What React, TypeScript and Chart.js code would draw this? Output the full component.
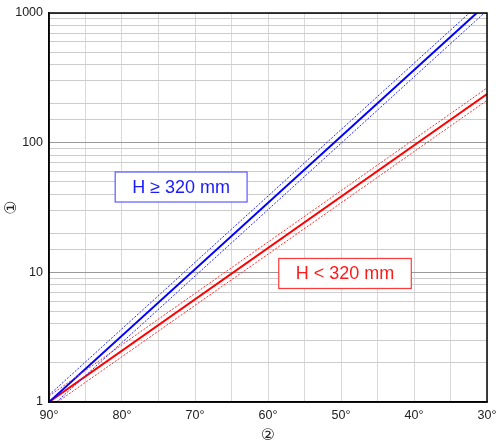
import React, { useEffect, useRef } from 'react';
import { Chart, registerables } from 'chart.js';

Chart.register(...registerables);

// Data (angle in degrees on x, value on log y)
const angles = [90, 30];
const blueMain = [1, 1180];
const blueUpper = [1.13, 1330];
const blueLower = [0.885, 1045];
const redMain = [1, 237];
const redUpper = [1.11, 264];
const redLower = [0.9, 212];

const yTickLabels = [1, 10, 100, 1000];
const xTickLabels = [90, 80, 70, 60, 50, 40, 30];

const labelTexts = ['H ≥ 320 mm', 'H < 320 mm'];
const labelAngles = [71.9, 49.45];
const labelValues = [45.5, 9.8];
const labelColors = ['#1a1aff', '#ff1a1a'];
const labelBorders = ['#5a5aff', '#ff3a3a'];

const FONT = '"Liberation Sans", Arial, "DejaVu Sans", sans-serif';

const toPoints = (ys: number[]) => angles.map((a, i) => ({ x: a, y: ys[i] }));

const framePlugin = {
  id: 'frameAndLabels',
  afterDatasetsDraw(chart: any) {
    const { ctx, chartArea, scales } = chart;
    ctx.save();
    ctx.font = `18px ${FONT}`;
    ctx.textAlign = 'center';
    ctx.textBaseline = 'middle';
    labelTexts.forEach((t, i) => {
      const cx = scales.x.getPixelForValue(labelAngles[i]);
      const cy = scales.y.getPixelForValue(labelValues[i]);
      const w = ctx.measureText(t).width + 34;
      const h = 30;
      ctx.fillStyle = '#ffffff';
      ctx.fillRect(cx - w / 2, cy - h / 2, w, h);
      ctx.strokeStyle = labelBorders[i];
      ctx.lineWidth = 1.2;
      ctx.strokeRect(cx - w / 2, cy - h / 2, w, h);
      ctx.fillStyle = labelColors[i];
      ctx.fillText(t, cx, cy + 1);
    });
    ctx.strokeStyle = '#000';
    ctx.lineWidth = 1.5;
    ctx.strokeRect(chartArea.left, chartArea.top, chartArea.right - chartArea.left, chartArea.bottom - chartArea.top);
    ctx.restore();
  },
};

export default function App() {
  const ref = useRef<HTMLCanvasElement | null>(null);

  useEffect(() => {
    if (!ref.current) return;
    const mk = (label: string, ys: number[], color: string, width: number, dash: number[]) => ({
      label,
      data: toPoints(ys),
      borderColor: color,
      backgroundColor: color,
      borderWidth: width,
      borderDash: dash,
      pointRadius: 0,
      fill: false,
      tension: 0,
    });
    const chart = new Chart(ref.current, {
      type: 'line',
      data: {
        datasets: [
          mk('blueUpper', blueUpper, '#2a2aff', 1, [2, 1.5]),
          mk('blueLower', blueLower, '#2a2aff', 1, [2, 1.5]),
          mk('redUpper', redUpper, '#ff3030', 1, [2, 1.5]),
          mk('redLower', redLower, '#ff3030', 1, [2, 1.5]),
          mk('blue', blueMain, '#0000ff', 2, []),
          mk('red', redMain, '#ff0000', 2, []),
        ],
      },
      options: {
        animation: false,
        responsive: false,
        events: [],
        layout: { padding: { top: 13, right: 9, left: 0, bottom: 0 } },
        plugins: { legend: { display: false }, tooltip: { enabled: false } },
        scales: {
          x: {
            type: 'linear',
            reverse: true,
            min: 30,
            max: 90,
            afterFit: (s: any) => {
              s.height = 44;
              s.paddingLeft = 0;
              s.paddingRight = 0;
            },
            grid: { color: '#d9d9d9', lineWidth: 1, drawTicks: false },
            border: { display: true, color: '#000', width: 1.5 },
            ticks: {
              stepSize: 5,
              autoSkip: false,
              maxRotation: 0,
              padding: 6,
              color: '#222',
              font: { family: FONT, size: 12.5 },
              callback: (v: any) => (xTickLabels.includes(Number(v)) ? `${v}°` : ''),
            },
            title: {
              display: true,
              text: '②',
              color: '#222',
              font: { family: FONT, size: 16 },
              padding: { top: 2, bottom: 1 },
            },
          },
          y: {
            type: 'logarithmic',
            min: 1,
            max: 1000,
            afterFit: (s: any) => {
              s.width = 49;
              s.paddingTop = 0;
              s.paddingBottom = 0;
            },
            grid: {
              color: (c: any) => (yTickLabels.includes(c.tick?.value) ? '#9a9a9a' : '#cccccc'),
              lineWidth: 1,
              drawTicks: false,
            },
            border: { display: true, color: '#000', width: 1.5 },
            ticks: {
              autoSkip: false,
              padding: 6,
              color: '#222',
              font: { family: FONT, size: 12.5 },
              callback: (v: any) => (yTickLabels.includes(Number(v)) ? String(v) : ''),
            },
            title: {
              display: true,
              text: '①',
              color: '#222',
              font: { family: FONT, size: 16 },
              padding: { top: 2, bottom: 2 },
            },
          },
        },
      },
      plugins: [framePlugin],
    });
    return () => chart.destroy();
  }, []);

  return (
    <div style={{ position: 'absolute', left: 0, top: 0, width: 496, height: 446, background: '#fff' }}>
      <canvas ref={ref} width={496} height={446} style={{ display: 'block' }} />
    </div>
  );
}
